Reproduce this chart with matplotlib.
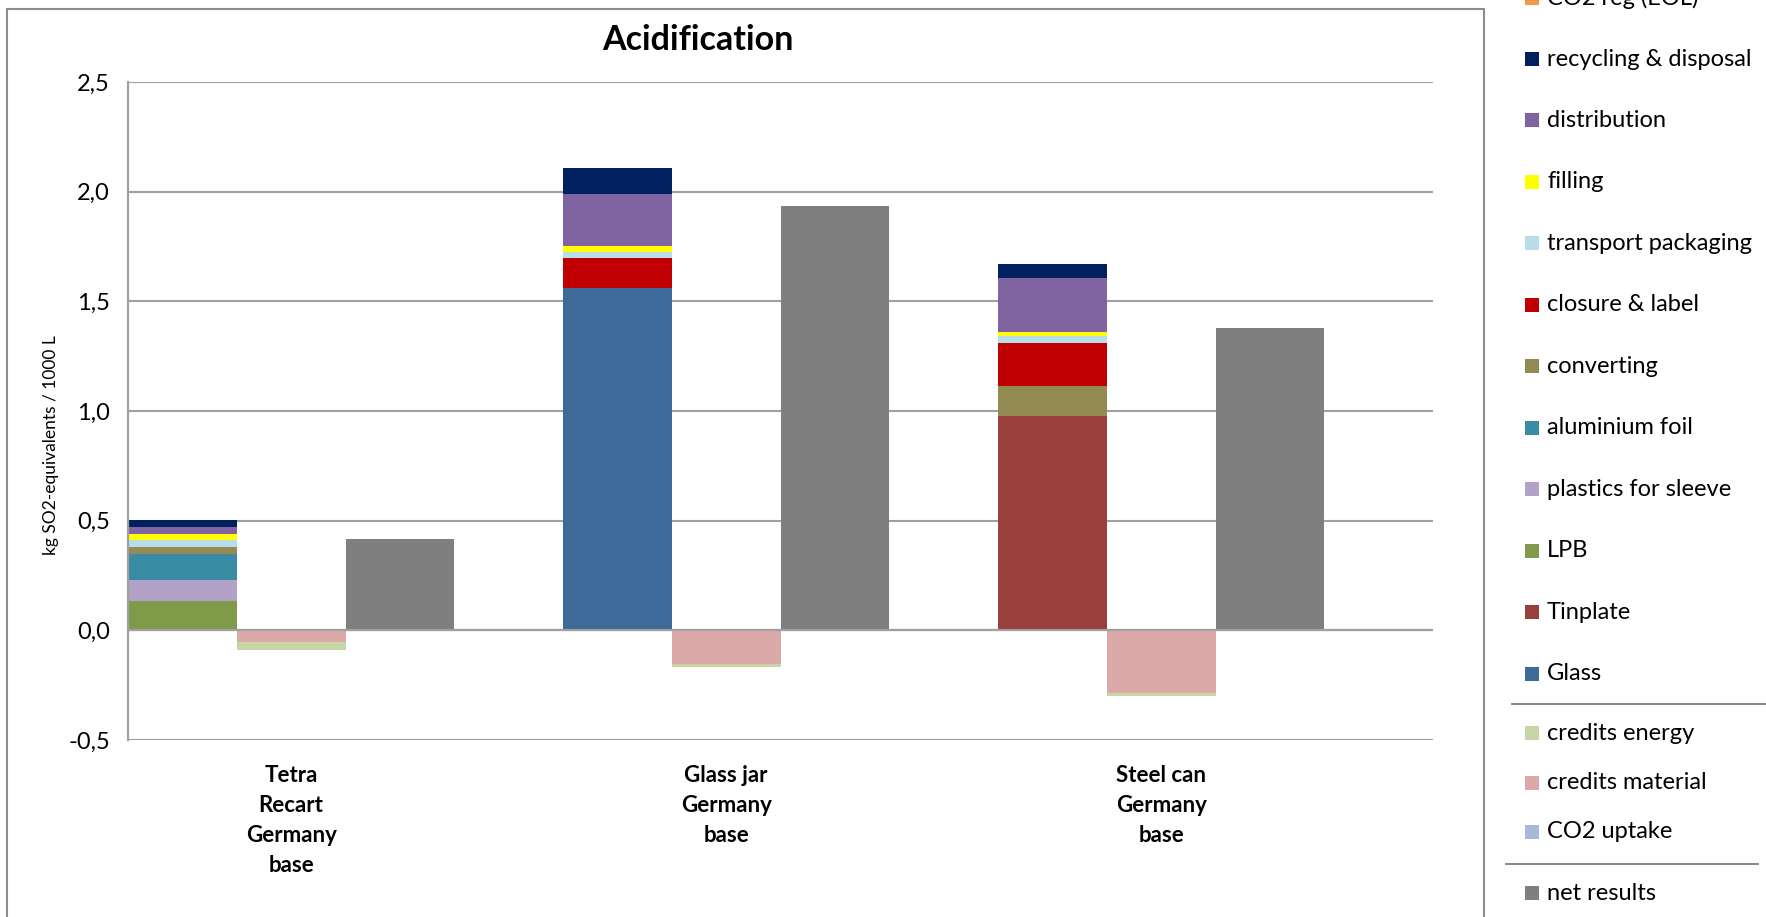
import matplotlib
matplotlib.use("Agg")
import matplotlib.pyplot as plt
from matplotlib.patches import Rectangle
from matplotlib.lines import Line2D

plt.rcParams['font.family'] = ['Lato', 'DejaVu Sans']

# ---------------- data ----------------
packages = ["Tetra\nRecart\nGermany\nbase", "Glass jar\nGermany\nbase", "Steel can\nGermany\nbase"]

# burden components, stacked bottom -> top
components = ["Glass", "Tinplate", "LPB", "plastics for sleeve", "aluminium foil",
              "converting", "closure & label", "transport packaging", "filling",
              "distribution", "recycling & disposal", "CO2 reg (EOL)"]
comp_colors = ["#3E6A9A", "#9B3F3D", "#7F9A48", "#B3A2C7", "#3A8BA4",
               "#948A54", "#C00000", "#B7DEE8", "#FFFF00",
               "#8064A2", "#002060", "#F79646"]
tetra_vals = [0.000, 0.000, 0.135, 0.095, 0.116, 0.035, 0.000, 0.029, 0.030, 0.029, 0.035, 0.0]
glass_vals = [1.562, 0.000, 0.000, 0.000, 0.000, 0.000, 0.137, 0.026, 0.029, 0.234, 0.119, 0.0]
steel_vals = [0.000, 0.977, 0.000, 0.000, 0.000, 0.135, 0.199, 0.029, 0.022, 0.245, 0.063, 0.0]

# credits, stacked from 0 downward
credit_names = ["CO2 uptake", "credits material", "credits energy"]
credit_colors = ["#A7B8D8", "#DAA9A8", "#C6D6A6"]
credit_vals = [[0.0, -0.054, -0.037],
               [0.0, -0.152, -0.017],
               [0.0, -0.286, -0.012]]

net_name = "net results"
net_color = "#7F7F7F"
net_vals = [0.416, 1.936, 1.378]

yticks = [-0.5, 0.0, 0.5, 1.0, 1.5, 2.0, 2.5]
ytick_labels = ["-0,5", "0,0", "0,5", "1,0", "1,5", "2,0", "2,5"]
title = "Acidification"
ylabel = "kg SO2-equivalents / 1000 L"

# ---------------- figure ----------------
W, H = 1766, 917
fig = plt.figure(figsize=(W / 100, H / 100), dpi=100)

def fx(px):
    return px / W

def fy(py):
    return 1 - py / H

ax = fig.add_axes([fx(128), fy(740), fx(1433) - fx(128), fy(82) - fy(740)])

grid_c = "#A0A0A0"
for y in yticks:
    ax.axhline(y, color=grid_c, lw=1.5, zorder=0.5)

all_vals = [tetra_vals, glass_vals, steel_vals]
for g, vals in enumerate(all_vals):
    base_x = 4 * g
    bottom = 0.0
    for v, c in zip(vals, comp_colors):
        if v > 0:
            ax.bar(base_x, v, width=1.0, bottom=bottom, color=c, lw=0, zorder=2)
        bottom += v
    bottom = 0.0
    for v, c in zip(credit_vals[g], credit_colors):
        if v < 0:
            ax.bar(base_x + 1, v, width=1.0, bottom=bottom, color=c, lw=0, zorder=2)
        bottom += v
    ax.bar(base_x + 2, net_vals[g], width=1.0, color=net_color, lw=0, zorder=2)

ax.axhline(0, color=grid_c, lw=1.6, zorder=3)

ax.set_xlim(-0.5, 11.5)
ax.set_ylim(-0.5, 2.5)
ax.set_yticks(yticks)
ax.set_yticklabels(ytick_labels, fontsize=17)
ax.tick_params(axis='y', length=0, pad=13)
ax.set_xticks([])
for s in ["top", "right", "bottom"]:
    ax.spines[s].set_visible(False)
ax.spines["left"].set_color(grid_c)
ax.spines["left"].set_linewidth(1.6)
ax.patch.set_alpha(0)

# category labels below the axis
for g, lab in enumerate(packages):
    xc = 4 * g + 1
    ax.text(xc, -0.038, lab, transform=ax.get_xaxis_transform(), ha="center", va="top",
            fontsize=16, fontweight="bold", linespacing=1.52)

fig.text(fx(698), fy(40), title, ha="center", va="center", fontsize=24.5, fontweight="bold")
fig.text(fx(51), fy(445), ylabel, rotation=90, ha="center", va="center", fontsize=12.5)

# chart frame
frame = Rectangle((fx(7), -0.1), fx(1484) - fx(7), fy(9) + 0.1, transform=fig.transFigure,
                  fill=False, edgecolor="#8C8C8C", lw=1.5, clip_on=False)
fig.add_artist(frame)

# ---------------- legend (manual) ----------------
LFS = 17
legend_names = list(reversed(components))
legend_colors = list(reversed(comp_colors))
mx0, msz, tx0 = 1525, 14, 1547
for i, (n, c) in enumerate(zip(legend_names, legend_colors)):
    yc = 59 + (i - 1) * 61.45
    fig.add_artist(Rectangle((fx(mx0), fy(yc + msz / 2)), fx(msz), msz / H,
                             transform=fig.transFigure, color=c, lw=0))
    fig.text(fx(tx0), fy(yc), n, ha="left", va="center", fontsize=LFS)

fig.add_artist(Line2D([fx(1512), fx(1766)], [fy(703.5), fy(703.5)],
                      transform=fig.transFigure, color="#7F7F7F", lw=1.3))
for i, (n, c) in enumerate(zip(reversed(credit_names), reversed(credit_colors))):
    yc = 733 + i * 49.5
    fig.add_artist(Rectangle((fx(mx0), fy(yc + msz / 2)), fx(msz), msz / H,
                             transform=fig.transFigure, color=c, lw=0))
    fig.text(fx(tx0), fy(yc), n, ha="left", va="center", fontsize=LFS)

fig.add_artist(Line2D([fx(1506), fx(1758)], [fy(863.7), fy(863.7)],
                      transform=fig.transFigure, color="#7F7F7F", lw=1.3))
yc = 893
fig.add_artist(Rectangle((fx(mx0), fy(yc + msz / 2)), fx(msz), msz / H,
                         transform=fig.transFigure, color=net_color, lw=0))
fig.text(fx(tx0), fy(yc), net_name, ha="left", va="center", fontsize=LFS)

fig.savefig("out.png", dpi=100)
